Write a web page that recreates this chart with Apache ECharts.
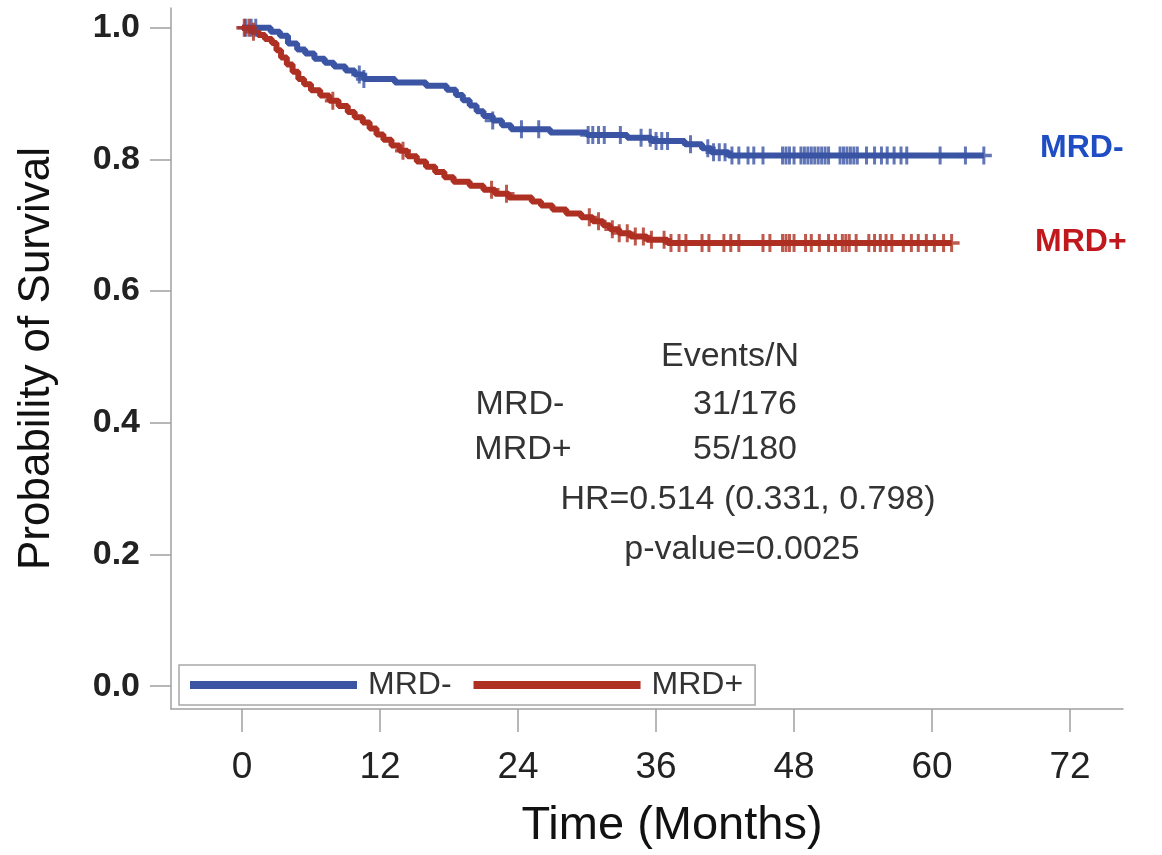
<!DOCTYPE html>
<html><head><meta charset="utf-8">
<script src="https://cdn.jsdelivr.net/npm/echarts@6/dist/echarts.min.js"></script>
<style>html,body{margin:0;padding:0;background:#fff}#c{width:1162px;height:855px}</style>
</head><body><div id="c"></div>
<script>
// Kaplan-Meier step points (time in months, survival probability)
const mrdNegTimes = [0, 2.5, 3.3, 4.0, 4.8, 5.5, 6.3, 7.2, 8.0, 9.0, 9.8, 10.6, 13.3, 16.0, 17.8, 18.6, 19.2, 19.8, 20.4, 21.0, 21.8, 22.6, 23.4, 26.8, 30.0, 33.5, 35.6, 38.5, 40.0, 40.8, 42.3, 64.5];
const mrdNegSurv  = [1.0, 0.994, 0.988, 0.976, 0.967, 0.961, 0.953, 0.947, 0.941, 0.935, 0.929, 0.922, 0.917, 0.912, 0.906, 0.898, 0.890, 0.882, 0.873, 0.866, 0.859, 0.852, 0.846, 0.841, 0.837, 0.833, 0.828, 0.823, 0.817, 0.811, 0.806, 0.806];
const mrdPosTimes = [0, 0.8, 1.4, 2.0, 2.6, 3.0, 3.4, 3.9, 4.4, 4.9, 5.4, 6.0, 6.8, 7.6, 8.4, 9.2, 9.8, 10.5, 11.1, 11.7, 12.3, 13.0, 13.7, 14.4, 15.2, 16.0, 16.8, 17.6, 18.4, 19.8, 21.0, 22.0, 23.2, 25.2, 26.0, 27.0, 28.2, 29.5, 30.5, 31.4, 32.0, 32.8, 33.8, 35.2, 37.0, 61.7];
const mrdPosSurv  = [1.0, 0.994, 0.989, 0.983, 0.977, 0.966, 0.955, 0.944, 0.933, 0.922, 0.914, 0.905, 0.897, 0.889, 0.881, 0.872, 0.864, 0.856, 0.847, 0.838, 0.830, 0.821, 0.813, 0.805, 0.797, 0.789, 0.781, 0.773, 0.766, 0.760, 0.754, 0.748, 0.742, 0.736, 0.730, 0.724, 0.718, 0.712, 0.706, 0.700, 0.694, 0.688, 0.683, 0.678, 0.673, 0.673];
// censoring times
const mrdNegCensor = [0.3, 0.8, 1.2, 10.2, 10.6, 21.8, 24.3, 25.8, 30.1, 30.5, 31.0, 31.5, 32.9, 34.7, 35.5, 36.0, 36.5, 37.0, 39.0, 40.5, 41.0, 41.5, 42.0, 42.6, 43.2, 44.0, 44.5, 45.3, 47.0, 47.3, 47.6, 48.0, 48.6, 48.9, 49.2, 49.5, 49.8, 50.1, 50.4, 50.7, 51.0, 52.0, 52.3, 52.6, 52.9, 53.2, 53.5, 54.3, 55.0, 55.6, 56.1, 56.7, 57.3, 57.8, 60.7, 62.9, 64.5];
const mrdPosCensor = [0.2, 0.6, 1.0, 7.9, 14.0, 21.7, 23.0, 30.2, 31.0, 32.2, 32.8, 33.5, 34.2, 34.9, 35.6, 36.7, 37.3, 38.0, 38.6, 40.0, 40.6, 41.9, 42.5, 43.2, 45.3, 45.9, 47.0, 47.3, 47.6, 48.0, 49.0, 49.5, 50.2, 51.0, 51.6, 52.2, 52.5, 52.8, 53.4, 54.5, 55.0, 55.5, 56.0, 56.5, 57.5, 58.2, 58.8, 59.5, 60.2, 61.0, 61.7];
const xTicks = [0, 12, 24, 36, 48, 60, 72];
const yTicks = [0, 0.2, 0.4, 0.6, 0.8, 1.0];
const groups = ['MRD-', 'MRD+'];
const statsHeader = 'Events/N';
const statsValues = ['31/176', '55/180'];
const hrText = 'HR=0.514 (0.331, 0.798)';
const pText = 'p-value=0.0025';

const BLUE = '#3b54a4', RED = '#ae3022';
function pairs(t, s) { return t.map((v, i) => [v, s[i]]); }
function survAt(t, s, x) { let v = s[0]; for (let i = 0; i < t.length; i++) { if (t[i] <= x) v = s[i]; } return v; }
const plus = 'path://M6.5,0h3v16h-3z M0,6.5h16v3h-16z';

const chart = echarts.init(document.getElementById('c'), null, {renderer: 'canvas'});
const FONT = '"Liberation Sans", Arial, sans-serif';
chart.setOption({
  animation: false,
  backgroundColor: '#fff',
  textStyle: {fontFamily: FONT},
  grid: {left: 171, right: 39, top: 8, bottom: 142},
  xAxis: {
    type: 'value', min: -6.17, max: 76.6,
    splitLine: {show: false},
    axisLine: {show: true, onZero: false, lineStyle: {color: '#a0a0a0', width: 1.5}},
    axisTick: {show: true, customValues: xTicks, length: 23, lineStyle: {color: '#a0a0a0', width: 1.5}},
    axisLabel: {customValues: xTicks, margin: 40, fontSize: 37, color: '#222', fontFamily: FONT},
    name: 'Time (Months)', nameLocation: 'middle', nameGap: 94,
    nameTextStyle: {fontSize: 47, color: '#111', fontFamily: FONT, padding: [0, 0, 0, 50]}
  },
  yAxis: {
    type: 'value', min: -0.0347, max: 1.030,
    splitLine: {show: false},
    axisLine: {show: true, onZero: false, lineStyle: {color: '#a0a0a0', width: 1.5}},
    axisTick: {show: true, customValues: yTicks, length: 21, lineStyle: {color: '#a0a0a0', width: 1.5}},
    axisLabel: {customValues: yTicks, margin: 31, fontSize: 34, fontWeight: 'bold', color: '#222', fontFamily: FONT,
      formatter: v => v.toFixed(1)},
    name: 'Probability of Survival', nameLocation: 'middle', nameGap: 112, nameRotate: 90,
    nameTextStyle: {fontSize: 44, color: '#111', fontFamily: FONT}
  },
  legend: {
    data: groups, left: 179, top: 665, orient: 'horizontal',
    icon: 'rect', itemWidth: 167, itemHeight: 8, itemGap: 22,
    padding: [4, 12, 4, 11], borderColor: '#a8a8a8', borderWidth: 1.5,
    textStyle: {fontSize: 32, color: '#333', fontFamily: FONT, padding: [0, 0, 0, 6]}
  },
  series: [
    {name: groups[0], type: 'line', step: 'end', data: pairs(mrdNegTimes, mrdNegSurv), showSymbol: false,
      lineStyle: {color: BLUE, width: 6}, itemStyle: {color: BLUE}, z: 3},
    {name: groups[1], type: 'line', step: 'end', data: pairs(mrdPosTimes, mrdPosSurv), showSymbol: false,
      lineStyle: {color: RED, width: 6}, itemStyle: {color: RED}, z: 3},
    {name: 'MRD- censored', type: 'scatter', symbol: plus, symbolSize: [16, 18],
      data: mrdNegCensor.map(t => [t, survAt(mrdNegTimes, mrdNegSurv, t)]), itemStyle: {color: BLUE}, z: 4},
    {name: 'MRD+ censored', type: 'scatter', symbol: plus, symbolSize: [16, 18],
      data: mrdPosCensor.map(t => [t, survAt(mrdPosTimes, mrdPosSurv, t)]), itemStyle: {color: RED}, z: 4}
  ],
  graphic: [
    {type: 'text', left: 1040, top: 132, style: {text: groups[0], fontSize: 32, fontWeight: 'bold', fill: '#1f4ec4', fontFamily: FONT}},
    {type: 'text', left: 1035, top: 226, style: {text: groups[1], fontSize: 32, fontWeight: 'bold', fill: '#c0181d', fontFamily: FONT}},
    {type: 'text', x: 730, y: 357, style: {text: statsHeader, fontSize: 34, fill: '#333', fontFamily: FONT, align: 'center', verticalAlign: 'middle'}},
    {type: 'text', x: 520, y: 405, style: {text: groups[0], fontSize: 34, fill: '#333', fontFamily: FONT, align: 'center', verticalAlign: 'middle'}},
    {type: 'text', x: 745, y: 405, style: {text: statsValues[0], fontSize: 34, fill: '#333', fontFamily: FONT, align: 'center', verticalAlign: 'middle'}},
    {type: 'text', x: 523, y: 450, style: {text: groups[1], fontSize: 34, fill: '#333', fontFamily: FONT, align: 'center', verticalAlign: 'middle'}},
    {type: 'text', x: 745, y: 450, style: {text: statsValues[1], fontSize: 34, fill: '#333', fontFamily: FONT, align: 'center', verticalAlign: 'middle'}},
    {type: 'text', x: 748, y: 500, style: {text: hrText, fontSize: 34, fill: '#333', fontFamily: FONT, align: 'center', verticalAlign: 'middle'}},
    {type: 'text', x: 742, y: 550, style: {text: pText, fontSize: 34, fill: '#333', fontFamily: FONT, align: 'center', verticalAlign: 'middle'}}
  ]
});
</script></body></html>
